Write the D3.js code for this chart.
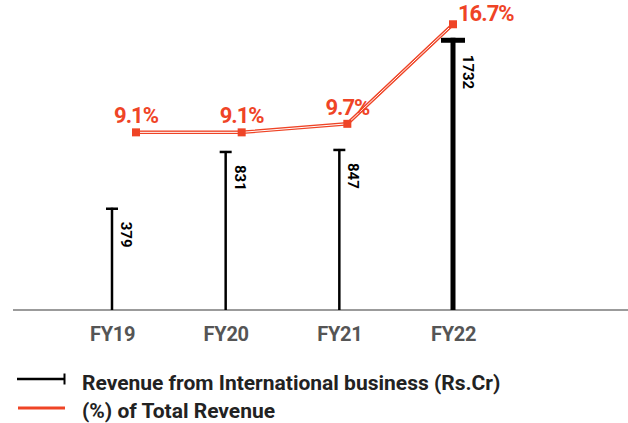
<!DOCTYPE html>
<html>
<head>
<meta charset="utf-8">
<script src="https://cdn.jsdelivr.net/npm/d3@7"></script>
<style>
  html, body { margin: 0; padding: 0; background: #ffffff; }
  svg { display: block; }
  text { font-family: Roboto, "Noto Sans", sans-serif; font-weight: 700; }
</style>
</head>
<body>
<svg id="chart" width="628" height="423"></svg>
<script>
// ---- data ----
const categories = ["FY19", "FY20", "FY21", "FY22"];
const revenueIntl = [379, 831, 847, 1732];          // Rs.Cr
const pctOfTotal = [9.1, 9.1, 9.7, 16.7];          // %
const pctLabels = ["9.1%", "9.1%", "9.7%", "16.7%"];
const legendLabels = ["Revenue from International business (Rs.Cr)", "(%) of Total Revenue"];

// ---- styles ----
const RED = "#ef4426";
const BLACK = "#000000";
const AXIS = "#7a7a7a";
const TICK_TEXT = "#555555";
const FONT = "Roboto, 'Noto Sans', sans-serif";

const svg = d3.select("#chart");

// scales
const xBar = d3.scalePoint().domain(categories).range([112, 453]);
const yBar = d3.scaleLinear().domain([-435, 1770]).range([310, 33]);
const xLine = d3.scalePoint().domain(categories).range([136, 453]);
const yLine = d3.scaleLinear().domain([8, 17]).range([148, 20]);

const baseY = yBar.range()[0];

// baseline axis
const xAxis = d3.axisBottom(xBar).tickSize(0).tickPadding(17);
const axisG = svg.append("g").attr("transform", `translate(0,${baseY})`).call(xAxis);
axisG.select(".domain").remove();
axisG.selectAll("text")
  .attr("fill", TICK_TEXT)
  .style("font-size", "20px")
  .style("font-family", FONT)
  .style("font-weight", 700)
  .style("letter-spacing", "-0.3px")
  .attr("dy", "0.71em");

svg.append("line")
  .attr("x1", 13).attr("x2", 628)
  .attr("y1", baseY).attr("y2", baseY)
  .attr("stroke", AXIS).attr("stroke-width", 1.5);

// bars (lollipop style with top cap)
const last = categories.length - 1;
const bars = svg.append("g").selectAll("g").data(categories).join("g");
bars.append("line")
  .attr("x1", d => xBar(d)).attr("x2", d => xBar(d))
  .attr("y1", baseY)
  .attr("y2", (d, i) => yBar(revenueIntl[i]))
  .attr("stroke", BLACK)
  .attr("stroke-width", (d, i) => i === last ? 5 : 2.5);
bars.append("line")
  .attr("x1", (d, i) => xBar(d) - (i === last ? 12 : 6))
  .attr("x2", (d, i) => xBar(d) + (i === last ? 12 : 6))
  .attr("y1", (d, i) => yBar(revenueIntl[i]) + (i === last ? 2.5 : 1))
  .attr("y2", (d, i) => yBar(revenueIntl[i]) + (i === last ? 2.5 : 1))
  .attr("stroke", BLACK)
  .attr("stroke-width", (d, i) => i === last ? 5 : 2.5);
bars.append("text")
  .attr("transform", (d, i) => `translate(${xBar(d) + (i === last ? 10 : 9)},${yBar(revenueIntl[i]) + (i === last ? 17 : 14)}) rotate(90)`)
  .attr("text-anchor", "start")
  .attr("fill", BLACK)
  .style("font-size", "15px")
  .style("font-weight", 700)
  .text((d, i) => revenueIntl[i]);

// percentage line (double stroke: red with white core)
const lineGen = d3.line()
  .x((d, i) => xLine(categories[i]))
  .y(d => yLine(d));
svg.append("path").datum(pctOfTotal)
  .attr("d", lineGen).attr("fill", "none")
  .attr("stroke", RED).attr("stroke-width", 3.5);
svg.append("path").datum(pctOfTotal)
  .attr("d", lineGen).attr("fill", "none")
  .attr("stroke", "#ffffff").attr("stroke-width", 1);

svg.append("g").selectAll("rect").data(pctOfTotal).join("rect")
  .attr("x", (d, i) => xLine(categories[i]) - 4)
  .attr("y", d => yLine(d) - 4)
  .attr("width", 8).attr("height", 8)
  .attr("fill", RED);

svg.append("g").selectAll("text").data(pctOfTotal).join("text")
  .attr("x", (d, i) => xLine(categories[i]) + (i === last ? 5 : 0))
  .attr("y", (d, i) => yLine(d) - (i === last ? 3 : 9))
  .attr("text-anchor", (d, i) => i === last ? "start" : "middle")
  .attr("fill", RED)
  .style("font-size", "22px")
  .style("letter-spacing", "-1px")
  .text((d, i) => pctLabels[i]);

// legend
const leg = svg.append("g");
leg.append("line").attr("x1", 17).attr("x2", 65).attr("y1", 379).attr("y2", 379)
  .attr("stroke", BLACK).attr("stroke-width", 2.5);
leg.append("line").attr("x1", 64.5).attr("x2", 64.5).attr("y1", 373.5).attr("y2", 384.5)
  .attr("stroke", BLACK).attr("stroke-width", 2);
leg.append("line").attr("x1", 18).attr("x2", 65).attr("y1", 408).attr("y2", 408)
  .attr("stroke", RED).attr("stroke-width", 3);
leg.selectAll("text").data(legendLabels).join("text")
  .attr("x", 82)
  .attr("y", (d, i) => 390 + i * 28)
  .attr("fill", "#222222")
  .style("font-size", "21px")
  .style("letter-spacing", "0px")
  .text(d => d);
</script>
</body>
</html>
